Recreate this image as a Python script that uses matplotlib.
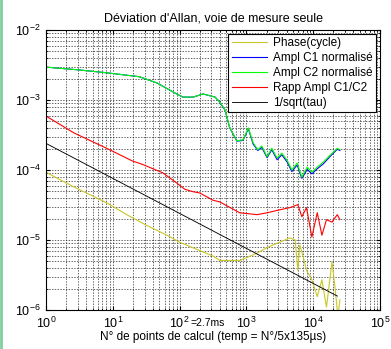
import matplotlib
matplotlib.use("Agg")
import matplotlib.pyplot as plt
from matplotlib.lines import Line2D
from matplotlib.ticker import FixedLocator, LogLocator, NullFormatter

plt.rcParams['font.family'] = ['Liberation Sans', 'DejaVu Sans']
plt.rcParams['mathtext.fontset'] = 'custom'
plt.rcParams['mathtext.rm'] = 'Liberation Sans'

# ---------------- data ----------------
green_x = [1, 3, 8, 25, 46, 80, 112, 160, 224, 340, 400, 480, 560, 720, 890, 1070,
           1260, 1480, 1700, 2040, 2400, 2880, 3390, 4070, 4790, 5750, 6760, 8130,
           9550, 11500, 14100, 17800, 22900, 25100]
green_y = [2.95e-3, 2.7e-3, 2.45e-3, 2.15e-3, 1.75e-3, 1.3e-3, 1.1e-3, 1.1e-3, 1.22e-3,
           1.1e-3, 9.3e-4, 7.2e-4, 4.1e-4, 2.6e-4, 2.7e-4, 4.0e-4,
           2.45e-4, 1.95e-4, 2.2e-4, 1.55e-4, 2.05e-4, 1.48e-4, 1.74e-4, 1.38e-4,
           1.0e-4, 1.26e-4, 7.9e-5, 1.1e-4, 9.3e-5, 1.1e-4, 1.29e-4, 1.62e-4, 2.04e-4, 1.95e-4]
blue_y = [2.95e-3, 2.7e-3, 2.45e-3, 2.15e-3, 1.75e-3, 1.3e-3, 1.1e-3, 1.1e-3, 1.22e-3,
          1.1e-3, 9.3e-4, 7.1e-4, 4.05e-4, 2.58e-4, 2.65e-4, 3.9e-4,
          2.35e-4, 1.9e-4, 2.1e-4, 1.5e-4, 1.95e-4, 1.4e-4, 1.65e-4, 1.3e-4,
          9.5e-5, 1.18e-4, 7.6e-5, 1.02e-4, 8.8e-5, 1.04e-4, 1.22e-4, 1.55e-4, 1.98e-4, 1.9e-4]

red_x = [1, 2.6, 8.1, 19.5, 28, 56, 91, 120, 158, 200, 316, 400, 794, 1445, 2040, 3160,
         4470, 5890, 6760, 7940, 9550, 11500, 13500, 15800, 19100, 22900, 25100]
red_y = [5.9e-4, 3.4e-4, 2.04e-4, 1.35e-4, 1.2e-4, 9.1e-5, 6.5e-5, 5.3e-5, 4.9e-5, 4.7e-5,
         3.7e-5, 3.5e-5, 2.45e-5, 2.3e-5, 2.45e-5, 2.7e-5,
         2.9e-5, 3.2e-5, 2.15e-5, 2.9e-5, 1.1e-5, 2.45e-5, 1.17e-5, 1.95e-5, 1.8e-5, 2.3e-5, 1.95e-5]

yellow_x = [1, 2.6, 8.1, 16.2, 32, 65, 100, 204, 316, 400, 794, 1445, 2040, 3160, 4470,
            5370, 5890, 6310, 7080, 7940, 9550, 11500, 13500, 15800, 19100, 21400, 23400, 25100]
yellow_y = [9.3e-5, 5.75e-5, 3.4e-5, 2.3e-5, 1.62e-5, 1.17e-5, 9.3e-6, 7e-6, 5.9e-6, 5.1e-6,
            5.1e-6, 6.5e-6, 7.8e-6, 9.3e-6, 1.07e-5, 1.0e-5, 3.7e-6, 8.5e-6, 5.75e-6, 3.7e-6,
            2.7e-6, 1.55e-6, 2.7e-6, 1.1e-6, 4.9e-6, 1.95e-6, 8e-7, 1.4e-6]

ref_x = [1, 23000]
ref_y = [2.4e-4, 1.58e-6]

labels = ["Phase(cycle)", "Ampl C1 normalisé", "Ampl C2 normalisé",
          "Rapp Ampl C1/C2", "1/sqrt(tau)"]
title = "Déviation d'Allan, voie de mesure seule"
xlabel = "N° de points de calcul (temp = N°/5x135µs)"

# ---------------- figure ----------------
fig = plt.figure(figsize=(3.91, 3.49), dpi=100)
ax = fig.add_axes([46/391, 39/349, 334/391, 280/349])
fs = 8.5

lw = 0.8
ax.plot(yellow_x, yellow_y, color='#c8c828', lw=lw, label=labels[0])
ax.plot(green_x, blue_y, color='#0000ff', lw=lw, label=labels[1])
ax.plot(green_x, green_y, color='#00ff00', lw=lw, label=labels[2])
ax.plot(red_x, red_y, color='#ff0000', lw=lw, label=labels[3])
ax.plot(ref_x, ref_y, color='#000000', lw=lw * 0.8, label=labels[4])

ax.set_xscale('log')
ax.set_yscale('log')
ax.set_xlim(1, 1e5)
ax.set_ylim(1e-6, 1e-2)

ax.xaxis.set_major_locator(FixedLocator([1, 10, 100, 1000, 1e4, 1e5]))
ax.set_xticklabels([r'$10^{0}$', r'$10^{1}$', r'$10^{2}$', r'$10^{3}$', r'$10^{4}$', r'$10^{5}$'])
ax.yaxis.set_major_locator(FixedLocator([1e-6, 1e-5, 1e-4, 1e-3, 1e-2]))
ax.set_yticklabels([r'$10^{-6}$', r'$10^{-5}$', r'$10^{-4}$', r'$10^{-3}$', r'$10^{-2}$'])
for a in (ax.xaxis, ax.yaxis):
    a.set_minor_locator(LogLocator(base=10, subs=range(2, 10), numticks=20))
    a.set_minor_formatter(NullFormatter())
ax.tick_params(which='both', direction='in', labelsize=9, top=True, right=True)
ax.tick_params(which='major', length=3, pad=4)
ax.tick_params(which='minor', length=1.5)

ax.annotate("=2.7ms", xy=(100, 0), xycoords=('data', 'axes fraction'),
            xytext=(8, -6), textcoords='offset points', ha='left', va='top',
            fontsize=7.5)

ax.grid(True, which='both', color='0.15', linestyle=(0, (2, 2)), linewidth=0.5)
ax.set_axisbelow(True)

ax.set_title(title, fontsize=9, pad=6)
ax.set_xlabel(xlabel, fontsize=fs, labelpad=0)

leg = ax.legend(loc='upper right', fontsize=fs, fancybox=False, framealpha=1,
                edgecolor='black', borderaxespad=0.3, handlelength=3.0,
                labelspacing=0.25, borderpad=0.3, handletextpad=0.5)
leg.get_frame().set_linewidth(0.8)
for spine in ax.spines.values():
    spine.set_linewidth(0.8)

# left frame strip of the original screenshot
fig.add_artist(Line2D([1/391, 1/391], [0, 1], transform=fig.transFigure,
                      color='#7fcfa0', lw=2))

fig.savefig('out.png', dpi=100)
